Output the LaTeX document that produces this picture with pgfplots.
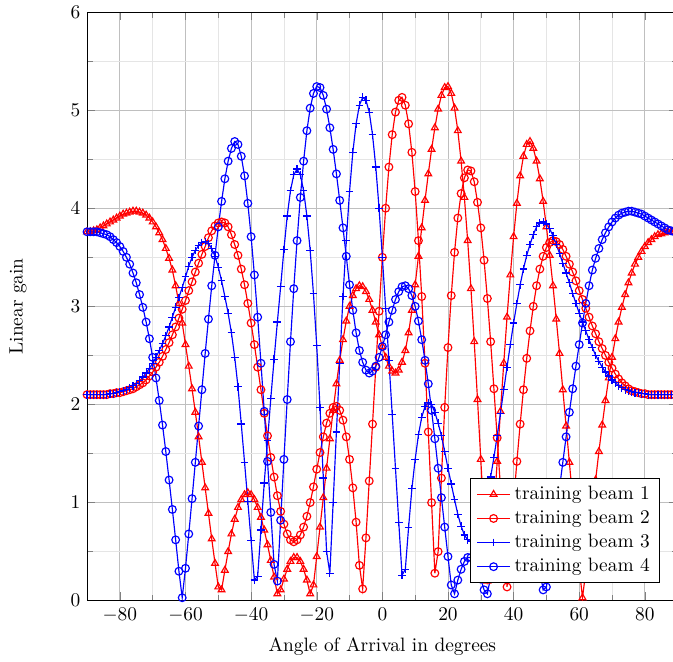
\documentclass[border=0pt]{standalone}
\usepackage{pgfplots}
\usepackage{pgfplotstable}
\pgfplotsset{compat=1.18}
\usetikzlibrary{calc}

% gain of the four training beams at 1 degree steps
\pgfplotstableread{
x b1 b2 b3 b4
-90 3.76 2.10 2.10 3.76
-89 3.76 2.10 2.10 3.76
-88 3.77 2.10 2.10 3.76
-87 3.78 2.10 2.10 3.76
-86 3.80 2.10 2.10 3.75
-85 3.82 2.10 2.10 3.74
-84 3.84 2.10 2.10 3.73
-83 3.86 2.11 2.11 3.71
-82 3.88 2.11 2.11 3.68
-81 3.90 2.12 2.12 3.65
-80 3.92 2.12 2.13 3.61
-79 3.94 2.13 2.14 3.56
-78 3.95 2.14 2.15 3.50
-77 3.96 2.15 2.17 3.43
-76 3.97 2.16 2.19 3.34
-75 3.97 2.18 2.21 3.24
-74 3.96 2.20 2.24 3.12
-73 3.95 2.22 2.28 2.99
-72 3.93 2.25 2.32 2.84
-71 3.90 2.29 2.37 2.67
-70 3.86 2.33 2.42 2.48
-69 3.81 2.38 2.48 2.27
-68 3.75 2.43 2.55 2.04
-67 3.68 2.49 2.62 1.79
-66 3.59 2.56 2.70 1.52
-65 3.49 2.63 2.79 1.23
-64 3.37 2.71 2.89 0.93
-63 3.21 2.79 2.99 0.62
-62 3.03 2.88 3.09 0.30
-61 2.83 2.97 3.19 0.03
-60 2.61 3.06 3.30 0.33
-59 2.39 3.16 3.41 0.68
-58 2.16 3.25 3.50 1.04
-57 1.92 3.35 3.57 1.41
-56 1.67 3.44 3.62 1.78
-55 1.41 3.53 3.65 2.15
-54 1.15 3.61 3.66 2.52
-53 0.89 3.70 3.64 2.87
-52 0.63 3.77 3.59 3.21
-51 0.38 3.82 3.51 3.52
-50 0.14 3.85 3.40 3.81
-49 0.11 3.86 3.26 4.07
-48 0.31 3.85 3.10 4.30
-47 0.50 3.81 2.93 4.48
-46 0.68 3.73 2.73 4.61
-45 0.83 3.63 2.48 4.68
-44 0.95 3.52 2.18 4.65
-43 1.03 3.38 1.80 4.53
-42 1.08 3.22 1.41 4.33
-41 1.10 3.03 1.01 4.05
-40 1.08 2.83 0.61 3.71
-39 1.03 2.61 0.21 3.32
-38 0.95 2.38 0.25 2.89
-37 0.85 2.15 0.72 2.42
-36 0.72 1.91 1.20 1.93
-35 0.57 1.68 1.63 1.42
-34 0.41 1.46 2.06 0.90
-33 0.24 1.26 2.46 0.37
-32 0.07 1.07 2.84 0.20
-31 0.11 0.91 3.20 0.82
-30 0.22 0.78 3.58 1.44
-29 0.32 0.68 3.92 2.05
-28 0.40 0.62 4.18 2.64
-27 0.44 0.60 4.34 3.18
-26 0.44 0.62 4.40 3.67
-25 0.40 0.67 4.34 4.11
-24 0.32 0.75 4.18 4.48
-23 0.21 0.86 3.92 4.79
-22 0.07 1.00 3.57 5.02
-21 0.16 1.16 3.13 5.17
-20 0.45 1.34 2.60 5.24
-19 0.75 1.51 1.97 5.23
-18 1.05 1.67 1.25 5.15
-17 1.35 1.81 0.50 5.01
-16 1.65 1.91 0.28 4.82
-15 1.94 1.97 1.00 4.60
-14 2.21 1.98 1.72 4.35
-13 2.45 1.94 2.42 4.08
-12 2.66 1.84 3.10 3.80
-11 2.85 1.67 3.67 3.51
-10 3.00 1.44 4.17 3.22
-9 3.11 1.15 4.57 2.96
-8 3.18 0.80 4.86 2.73
-7 3.21 0.36 5.05 2.55
-6 3.20 0.12 5.13 2.43
-5 3.15 0.64 5.10 2.35
-4 3.07 1.22 4.98 2.32
-3 2.96 1.80 4.75 2.34
-2 2.84 2.38 4.42 2.39
-1 2.71 2.95 4.00 2.48
0 2.59 3.50 3.50 2.59
1 2.48 4.00 2.98 2.71
2 2.39 4.42 2.45 2.84
3 2.34 4.75 1.90 2.96
4 2.32 4.98 1.35 3.07
5 2.35 5.10 0.80 3.15
6 2.43 5.13 0.26 3.20
7 2.55 5.05 0.32 3.21
8 2.73 4.86 0.75 3.18
9 2.96 4.57 1.14 3.11
10 3.22 4.17 1.44 3.00
11 3.51 3.67 1.69 2.85
12 3.80 3.10 1.87 2.66
13 4.08 2.42 1.98 2.45
14 4.35 1.72 2.02 2.21
15 4.60 1.00 2.00 1.94
16 4.82 0.28 1.92 1.65
17 5.01 0.50 1.81 1.35
18 5.15 1.25 1.68 1.05
19 5.23 1.97 1.52 0.75
20 5.24 2.58 1.35 0.45
21 5.17 3.11 1.19 0.16
22 5.02 3.55 1.03 0.07
23 4.79 3.90 0.88 0.21
24 4.48 4.15 0.76 0.32
25 4.11 4.31 0.67 0.40
26 3.67 4.39 0.62 0.44
27 3.18 4.38 0.60 0.44
28 2.64 4.27 0.62 0.40
29 2.05 4.06 0.68 0.32
30 1.44 3.80 0.78 0.22
31 0.82 3.47 0.91 0.11
32 0.20 3.08 1.07 0.07
33 0.37 2.64 1.26 0.24
34 0.90 2.16 1.46 0.41
35 1.42 1.66 1.68 0.57
36 1.93 1.15 1.91 0.72
37 2.42 0.63 2.15 0.85
38 2.89 0.14 2.38 0.95
39 3.32 0.56 2.61 1.03
40 3.71 1.00 2.83 1.08
41 4.05 1.42 3.03 1.10
42 4.33 1.80 3.22 1.08
43 4.53 2.15 3.38 1.03
44 4.65 2.47 3.52 0.95
45 4.68 2.75 3.63 0.83
46 4.61 3.00 3.73 0.68
47 4.48 3.21 3.81 0.50
48 4.30 3.38 3.85 0.31
49 4.07 3.51 3.86 0.11
50 3.81 3.60 3.84 0.14
51 3.52 3.65 3.79 0.38
52 3.21 3.67 3.72 0.63
53 2.87 3.66 3.63 0.89
54 2.52 3.63 3.54 1.15
55 2.15 3.58 3.44 1.41
56 1.78 3.51 3.34 1.67
57 1.41 3.43 3.24 1.92
58 1.04 3.35 3.13 2.16
59 0.68 3.26 3.03 2.39
60 0.33 3.16 2.93 2.61
61 0.03 3.07 2.84 2.83
62 0.30 2.98 2.75 3.03
63 0.62 2.89 2.66 3.21
64 0.93 2.80 2.58 3.37
65 1.23 2.72 2.50 3.49
66 1.52 2.64 2.44 3.59
67 1.79 2.57 2.38 3.68
68 2.04 2.50 2.33 3.75
69 2.27 2.43 2.29 3.81
70 2.48 2.37 2.25 3.86
71 2.67 2.31 2.22 3.90
72 2.84 2.26 2.19 3.93
73 2.99 2.22 2.17 3.95
74 3.12 2.19 2.15 3.96
75 3.24 2.16 2.14 3.97
76 3.34 2.14 2.13 3.97
77 3.43 2.13 2.12 3.96
78 3.50 2.12 2.12 3.95
79 3.56 2.11 2.11 3.94
80 3.61 2.11 2.11 3.92
81 3.65 2.10 2.10 3.90
82 3.68 2.10 2.10 3.88
83 3.71 2.10 2.10 3.86
84 3.73 2.10 2.10 3.84
85 3.74 2.10 2.10 3.82
86 3.75 2.10 2.10 3.80
87 3.76 2.10 2.10 3.78
88 3.76 2.10 2.10 3.77
89 3.76 2.10 2.10 3.76
90 3.76 2.10 2.10 3.76
}\beams

\begin{document}
\begin{tikzpicture}
\begin{axis}[scale only axis,width=304.6pt,height=303.6pt,
  xmin=-90,xmax=90,ymin=0,ymax=6,
  xtick={-80,-60,...,80},ytick={0,1,...,6},
  minor x tick num=1,minor y tick num=1,
  grid=both,major grid style={black!25},minor grid style={black!10},
  xlabel={Angle of Arrival in degrees},ylabel={Linear gain},
  every axis x label/.style={at={(axis description cs:0.5,-0.078)},anchor=center},
  every axis y label/.style={at={(axis description cs:-0.117,0.5)},rotate=90,anchor=center},
  legend pos=south east,legend cell align=left,
  every axis plot/.append style={line width=0.6pt,mark options={solid}}]
\addplot[red,mark=triangle] table[x=x,y=b1]{\beams};
\addplot[red,mark=o] table[x=x,y=b2]{\beams};
\addplot[blue,mark=+] table[x=x,y=b3]{\beams};
\addplot[blue,mark=o] table[x=x,y=b4]{\beams};
\legend{training beam 1,training beam 2,training beam 3,training beam 4}
\end{axis}
% the reference has a wide left margin and stops a few points short of the right axis line
\pgfresetboundingbox
\path[use as bounding box] ($(current axis.south west)+(-44.9pt,-31.4pt)$) rectangle ($(current axis.north east)+(-2.4pt,6.2pt)$);
\end{tikzpicture}
\end{document}
